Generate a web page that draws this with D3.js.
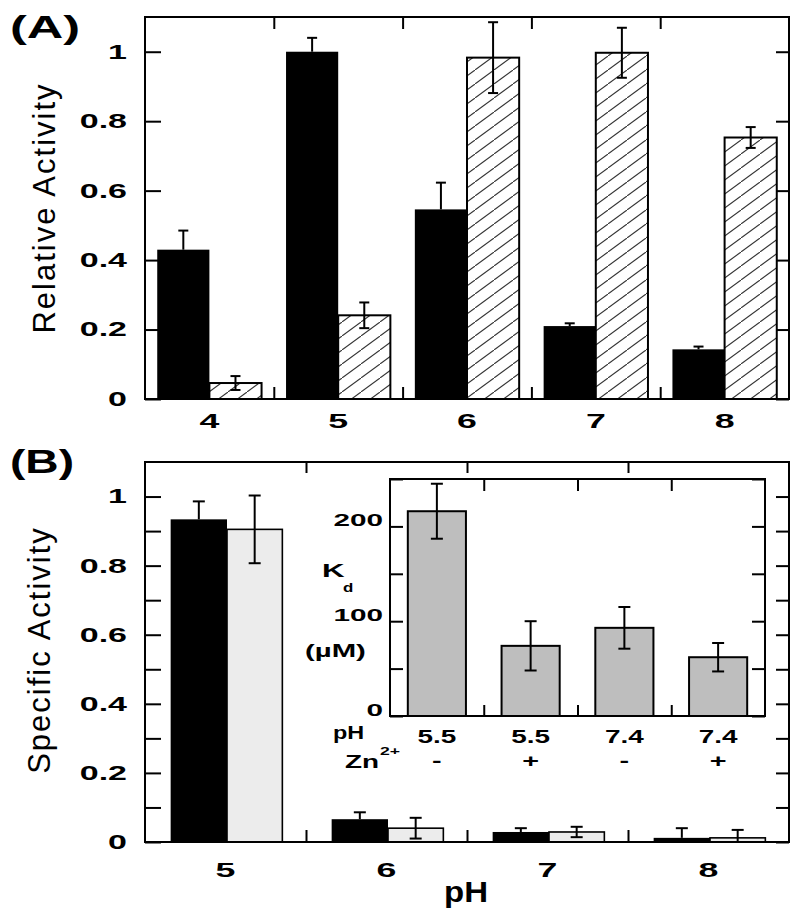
<!DOCTYPE html>
<html>
<head>
<meta charset="utf-8">
<script src="https://cdn.jsdelivr.net/npm/d3@7"></script>
<style>
  body { margin: 0; background: #fff; }
  svg text { font-family: "Liberation Sans", Arial, sans-serif; fill: #000; }
</style>
</head>
<body>
<svg id="chart" width="800" height="918"></svg>
<script>
// ---------- Data ----------
// Panel A
const catsA = [4, 5, 6, 7, 8];
const blackA = [0.43, 1.00, 0.546, 0.21, 0.143];
const blackAErr = [0.055, 0.04, 0.077, 0.008, 0.008];
const hatchA = [0.046, 0.241, 0.983, 0.997, 0.753];
const hatchAErr = [0.02, 0.037, 0.102, 0.072, 0.03];
const yTicksA = [0, 0.2, 0.4, 0.6, 0.8, 1];
const yTickLabelsA = ["0", "0.2", "0.4", "0.6", "0.8", "1"];

// Panel B
const catsB = [5, 6, 7, 8];
const blackB = [0.934, 0.066, 0.029, 0.012];
const blackBErr = [0.052, 0.02, 0.011, 0.028];
const lightB = [0.905, 0.04, 0.029, 0.012];
const lightBErr = [0.098, 0.03, 0.015, 0.023];
const yTicksB = [0, 0.1, 0.2, 0.3, 0.4, 0.5, 0.6, 0.7, 0.8, 0.9, 1];
const yTickLabelsB = ["0", "", "0.2", "", "0.4", "", "0.6", "", "0.8", "", "1"];

// Inset
const insetCats = [1, 2, 3, 4];
const insetPH = ["5.5", "5.5", "7.4", "7.4"];
const insetZn = ["-", "+", "-", "+"];
const kdValues = [216, 74, 93, 62];
const kdErr = [29, 26, 22, 15];
const yTicksI = [0, 50, 100, 150, 200, 250];
const yTickLabelsI = ["0", "", "100", "", "200", ""];

// ---------- Helpers ----------
const svg = d3.select("#chart");
const FONT_BOLD = 700;

function stretch(sel, sx) {
  sel.each(function () {
    const t = d3.select(this);
    const x = +t.attr("x") || 0, y = +t.attr("y") || 0;
    t.attr("transform", `translate(${x},${y}) scale(${sx},1) translate(${-x},${-y})`);
  });
}

function cleanAxis(g) {
  g.select(".domain").remove();
  g.selectAll(".tick line").attr("stroke", "#000").attr("stroke-width", 2);
}

// hatch pattern
const defs = svg.append("defs");
const pat = defs.append("pattern")
  .attr("id", "hatch").attr("patternUnits", "userSpaceOnUse")
  .attr("width", 19).attr("height", 14);
pat.append("rect").attr("width", 19).attr("height", 14).attr("fill", "#fff");
pat.append("path").attr("d", "M-5,17.7 L24,-3.7")
  .attr("stroke", "#333").attr("stroke-width", 1.1).attr("fill", "none");

function errorBars(g, data, xFn, yScale, capHalf, oneSided) {
  const eg = g.append("g").attr("stroke", "#000").attr("stroke-width", 2).attr("fill", "none");
  data.forEach((d, i) => {
    const cx = xFn(i);
    const top = yScale(d.v + d.e);
    const bot = oneSided ? yScale(d.v) : yScale(Math.max(0, d.v - d.e));
    eg.append("line").attr("x1", cx).attr("x2", cx).attr("y1", top).attr("y2", bot);
    eg.append("line").attr("x1", cx - capHalf).attr("x2", cx + capHalf).attr("y1", top).attr("y2", top);
    if (!oneSided && d.v - d.e > 0) {
      eg.append("line").attr("x1", cx - capHalf).attr("x2", cx + capHalf).attr("y1", bot).attr("y2", bot);
    }
  });
}

// ---------- Panel A ----------
(function () {
  const L = 145, R = 789, T = 17, B = 399;
  const x0 = d3.scaleBand().domain(catsA).range([L, R]).paddingInner(0.19).paddingOuter(0.095);
  const x1 = d3.scaleBand().domain(["black", "hatch"]).range([0, x0.bandwidth()]);
  const xLin = d3.scaleLinear().domain([3.5, 8.5]).range([L, R]);
  const y = d3.scaleLinear().domain([0, 1.1]).range([B, T]);
  const g = svg.append("g");

  // bars
  g.selectAll(".ba").data(catsA).join("rect")
    .attr("x", d => x0(d) + x1("black")).attr("width", x1.bandwidth())
    .attr("y", (d, i) => y(blackA[i])).attr("height", (d, i) => B - y(blackA[i]))
    .attr("fill", "#000");
  g.selectAll(".ha").data(catsA).join("rect")
    .attr("x", d => x0(d) + x1("hatch")).attr("width", x1.bandwidth())
    .attr("y", (d, i) => y(hatchA[i])).attr("height", (d, i) => B - y(hatchA[i]))
    .attr("fill", "url(#hatch)").attr("stroke", "#000").attr("stroke-width", 2);

  errorBars(g, blackA.map((v, i) => ({ v, e: blackAErr[i] })),
    i => x0(catsA[i]) + x1("black") + x1.bandwidth() / 2, y, 5, true);
  errorBars(g, hatchA.map((v, i) => ({ v, e: hatchAErr[i] })),
    i => x0(catsA[i]) + x1("hatch") + x1.bandwidth() / 2, y, 5, false);

  // axes
  const ay = g.append("g").attr("transform", `translate(${L},0)`)
    .call(d3.axisLeft(y).tickValues(yTicksA).tickFormat((d, i) => yTickLabelsA[i]).tickSize(-16).tickPadding(18));
  cleanAxis(ay);
  ay.selectAll("text").attr("font-size", 20).attr("font-weight", FONT_BOLD).call(stretch, 1.7);

  const ayr = g.append("g").attr("transform", `translate(${R},0)`)
    .call(d3.axisRight(y).tickValues(yTicksA).tickFormat("").tickSize(-13));
  cleanAxis(ayr);

  const axb = g.append("g").attr("transform", `translate(0,${B})`)
    .call(d3.axisBottom(x0).tickSize(0).tickPadding(14));
  axb.select(".domain").remove();
  axb.selectAll("text").attr("font-size", 21).attr("font-weight", FONT_BOLD).call(stretch, 1.7);

  const axbt = g.append("g").attr("transform", `translate(0,${B})`)
    .call(d3.axisBottom(xLin).tickValues([4.5, 5.5, 6.5, 7.5]).tickFormat("").tickSize(-12));
  cleanAxis(axbt);
  const axt = g.append("g").attr("transform", `translate(0,${T})`)
    .call(d3.axisTop(xLin).tickValues([4.5, 5.5, 6.5, 7.5]).tickFormat("").tickSize(-12));
  cleanAxis(axt);

  g.append("rect").attr("x", L).attr("y", T).attr("width", R - L).attr("height", B - T)
    .attr("fill", "none").attr("stroke", "#000").attr("stroke-width", 2);

  g.append("text").attr("transform", `translate(55,208) rotate(-90)`)
    .attr("text-anchor", "middle").attr("font-size", 31).attr("letter-spacing", 2)
    .text("Relative Activity");

  g.append("text").attr("x", 10).attr("y", 38).attr("font-size", 32).attr("font-weight", FONT_BOLD)
    .text("(A)").call(stretch, 1.58);
})();

// ---------- Panel B ----------
(function () {
  const L = 145, R = 789, T = 462, B = 842;
  const x0 = d3.scaleBand().domain(catsB).range([L, R]).paddingInner(0.3).paddingOuter(0.15);
  const x1 = d3.scaleBand().domain(["black", "light"]).range([0, x0.bandwidth()]);
  const xLin = d3.scaleLinear().domain([4.5, 8.5]).range([L, R]);
  const y = d3.scaleLinear().domain([0, 1.1]).range([B, T]);
  const g = svg.append("g");

  g.selectAll(".bb").data(catsB).join("rect")
    .attr("x", d => x0(d) + x1("black") + 1.5).attr("width", x1.bandwidth())
    .attr("y", (d, i) => y(blackB[i])).attr("height", (d, i) => B - y(blackB[i]))
    .attr("fill", "#000");
  g.selectAll(".lb").data(catsB).join("rect")
    .attr("x", d => x0(d) + x1("light") + 1.5).attr("width", x1.bandwidth() - 1)
    .attr("y", (d, i) => y(lightB[i])).attr("height", (d, i) => B - y(lightB[i]))
    .attr("fill", "#ececec").attr("stroke", "#000").attr("stroke-width", 1.6);

  errorBars(g, blackB.map((v, i) => ({ v, e: blackBErr[i] })),
    i => x0(catsB[i]) + x1("black") + 1.5 + x1.bandwidth() / 2, y, 6, true);
  errorBars(g, lightB.map((v, i) => ({ v, e: lightBErr[i] })),
    i => x0(catsB[i]) + x1("light") + 1 + x1.bandwidth() / 2, y, 6, false);

  const ay = g.append("g").attr("transform", `translate(${L},0)`)
    .call(d3.axisLeft(y).tickValues(yTicksB).tickFormat((d, i) => yTickLabelsB[i]).tickSize(-16).tickPadding(18));
  cleanAxis(ay);
  ay.selectAll("text").attr("font-size", 20).attr("font-weight", FONT_BOLD).call(stretch, 1.7);

  const ayr = g.append("g").attr("transform", `translate(${R},0)`)
    .call(d3.axisRight(y).tickValues(yTicksB).tickFormat("").tickSize(-13));
  cleanAxis(ayr);

  const axb = g.append("g").attr("transform", `translate(0,${B})`)
    .call(d3.axisBottom(x0).tickSize(0).tickPadding(20));
  axb.select(".domain").remove();
  axb.selectAll("text").attr("font-size", 21).attr("font-weight", FONT_BOLD).call(stretch, 1.7);

  const axbt = g.append("g").attr("transform", `translate(0,${B})`)
    .call(d3.axisBottom(xLin).tickValues([5.5, 6.5, 7.5]).tickFormat("").tickSize(-12));
  cleanAxis(axbt);
  const axt = g.append("g").attr("transform", `translate(0,${T})`)
    .call(d3.axisTop(xLin).tickValues([5.5, 6.5, 7.5]).tickFormat("").tickSize(-11));
  cleanAxis(axt);

  g.append("rect").attr("x", L).attr("y", T).attr("width", R - L).attr("height", B - T)
    .attr("fill", "none").attr("stroke", "#000").attr("stroke-width", 2);

  g.append("text").attr("transform", `translate(50,650) rotate(-90)`)
    .attr("text-anchor", "middle").attr("font-size", 31).attr("letter-spacing", 2)
    .text("Specific Activity");

  g.append("text").attr("x", 466).attr("y", 902).attr("text-anchor", "middle")
    .attr("font-size", 30).attr("font-weight", FONT_BOLD).text("pH").call(stretch, 1.1);

  g.append("text").attr("x", 10).attr("y", 473).attr("font-size", 33).attr("font-weight", FONT_BOLD)
    .text("(B)").call(stretch, 1.4);

  // ---------- Inset ----------
  const IL = 390, IR = 765, IT = 479, IB = 716;
  const xi = d3.scaleBand().domain(insetCats).range([IL, IR]).paddingInner(0.38).paddingOuter(0.19);
  const xiLin = d3.scaleLinear().domain([0.5, 4.5]).range([IL, IR]);
  const yi = d3.scaleLinear().domain([0, 250]).range([IB, IT]);
  const gi = svg.append("g");

  gi.append("rect").attr("x", IL).attr("y", IT).attr("width", IR - IL).attr("height", IB - IT)
    .attr("fill", "#fff");

  gi.selectAll(".ib").data(insetCats).join("rect")
    .attr("x", d => xi(d)).attr("width", xi.bandwidth())
    .attr("y", (d, i) => yi(kdValues[i])).attr("height", (d, i) => IB - yi(kdValues[i]))
    .attr("fill", "#bebebe").attr("stroke", "#000").attr("stroke-width", 2);

  errorBars(gi, kdValues.map((v, i) => ({ v, e: kdErr[i] })),
    i => xi(insetCats[i]) + xi.bandwidth() / 2, yi, 6, false);

  const iay = gi.append("g").attr("transform", `translate(${IL},0)`)
    .call(d3.axisLeft(yi).tickValues(yTicksI).tickFormat((d, i) => yTickLabelsI[i]).tickSize(-13).tickPadding(7));
  cleanAxis(iay);
  iay.selectAll("text").attr("font-size", 17).attr("font-weight", FONT_BOLD).attr("dy", "-0.03em").call(stretch, 1.75);

  const iayr = gi.append("g").attr("transform", `translate(${IR},0)`)
    .call(d3.axisRight(yi).tickValues(yTicksI).tickFormat("").tickSize(-13));
  cleanAxis(iayr);

  const iaxb = gi.append("g").attr("transform", `translate(0,${IB})`)
    .call(d3.axisBottom(xi).tickFormat((d, i) => insetPH[i]).tickSize(0).tickPadding(14));
  iaxb.select(".domain").remove();
  iaxb.selectAll("text").attr("font-size", 18).attr("font-weight", FONT_BOLD).call(stretch, 1.55);

  gi.selectAll(".zn").data(insetCats).join("text")
    .attr("x", d => xi(d) + xi.bandwidth() / 2).attr("y", 767)
    .attr("text-anchor", "middle").attr("font-size", 18).attr("font-weight", FONT_BOLD)
    .text((d, i) => insetZn[i]).call(stretch, 1.6);

  const iaxbt = gi.append("g").attr("transform", `translate(0,${IB})`)
    .call(d3.axisBottom(xiLin).tickValues([1.5, 2.5, 3.5]).tickFormat("").tickSize(-11));
  cleanAxis(iaxbt);
  const iaxt = gi.append("g").attr("transform", `translate(0,${IT})`)
    .call(d3.axisTop(xiLin).tickValues([1.5, 2.5, 3.5]).tickFormat("").tickSize(-12));
  cleanAxis(iaxt);

  gi.append("rect").attr("x", IL).attr("y", IT).attr("width", IR - IL).attr("height", IB - IT)
    .attr("fill", "none").attr("stroke", "#000").attr("stroke-width", 2);

  // inset labels
  gi.append("text").attr("x", 322).attr("y", 577).attr("font-size", 19).attr("font-weight", FONT_BOLD)
    .text("K").call(stretch, 1.65);
  gi.append("text").attr("x", 343).attr("y", 592).attr("font-size", 13).attr("font-weight", FONT_BOLD)
    .text("d").call(stretch, 1.3);
  gi.append("text").attr("x", 305).attr("y", 657).attr("font-size", 18).attr("font-weight", FONT_BOLD)
    .text("(\u00b5M)").call(stretch, 1.63);
  gi.append("text").attr("x", 333).attr("y", 739).attr("font-size", 18).attr("font-weight", FONT_BOLD)
    .text("pH").call(stretch, 1.3);
  gi.append("text").attr("x", 345).attr("y", 768).attr("font-size", 18).attr("font-weight", FONT_BOLD)
    .text("Zn").call(stretch, 1.55);
  gi.append("text").attr("x", 380).attr("y", 755).attr("font-size", 11).attr("font-weight", FONT_BOLD)
    .text("2+").call(stretch, 1.6);
})();
</script>
</body>
</html>
